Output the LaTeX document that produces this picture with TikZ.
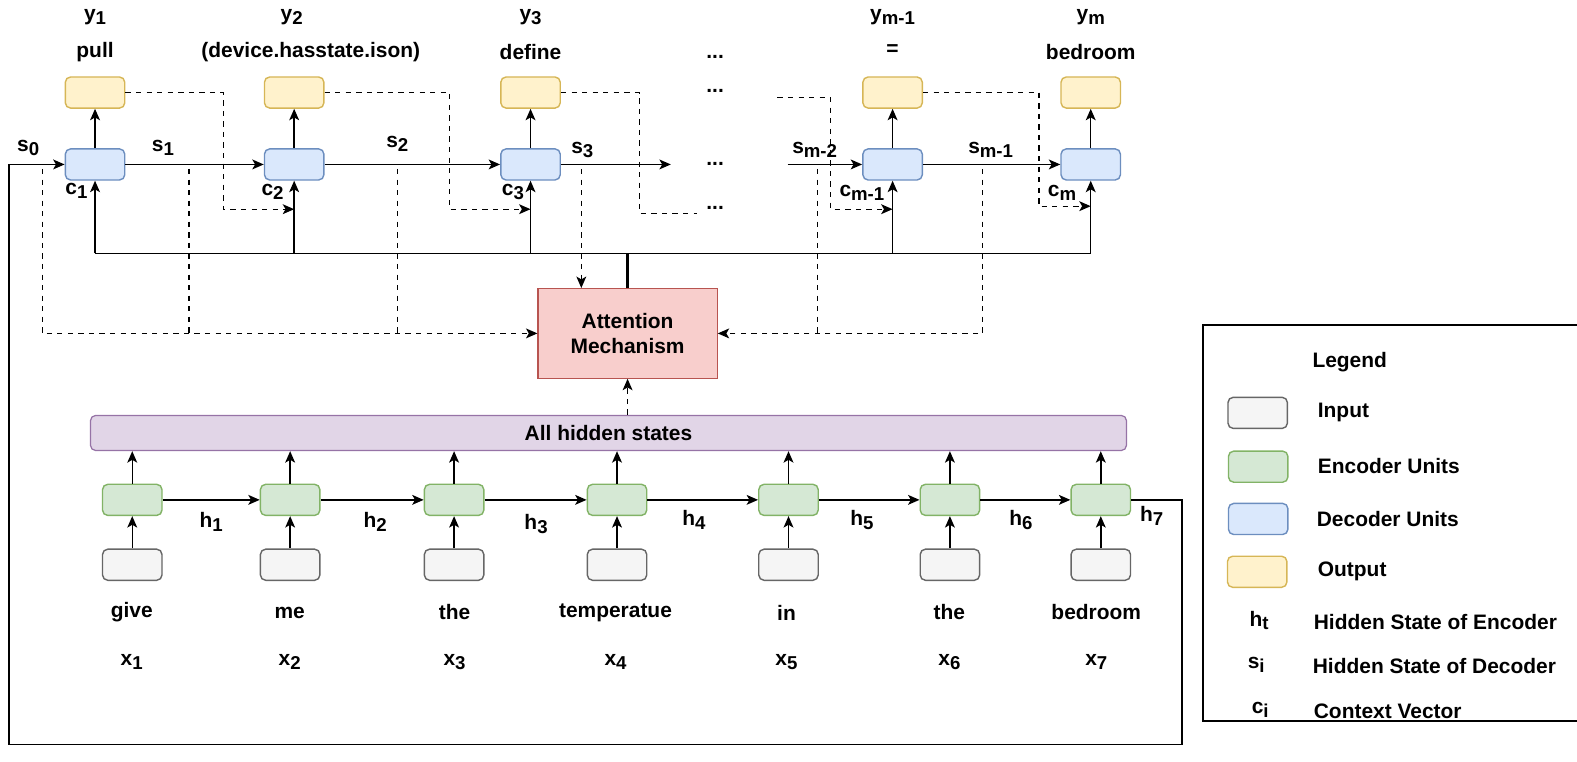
\documentclass[tikz,border=0pt]{standalone}
\usepackage{fontspec}
\setmainfont{Liberation Sans}
\usetikzlibrary{arrows.meta, calc, positioning}
\definecolor{decf}{HTML}{DAE8FC}
\definecolor{decd}{HTML}{6C8EBF}
\definecolor{encf}{HTML}{D5E8D4}
\definecolor{encd}{HTML}{82B366}
\definecolor{outf}{HTML}{FFF2CC}
\definecolor{outd}{HTML}{D6B656}
\definecolor{inf}{HTML}{F5F5F5}
\definecolor{ind}{HTML}{666666}
\definecolor{attf}{HTML}{F8CECC}
\definecolor{attd}{HTML}{B85450}
\definecolor{hidf}{HTML}{E1D5E7}
\definecolor{hidd}{HTML}{9673A6}
\newcommand{\lsub}[1]{\raisebox{-0.35ex}{\fontsize{10.6}{10}\selectfont #1}}
\tikzset{
  unit/.style={shape=rectangle, rounded corners=3pt, line width=0.8pt, minimum width=33.8pt, minimum height=17.7pt, inner sep=0pt},
  decunit/.style={unit, draw=decd, fill=decf},
  encunit/.style={unit, draw=encd, fill=encf},
  outunit/.style={unit, draw=outd, fill=outf},
  inunit/.style={unit, draw=ind, fill=inf},
  arr/.style={->, line width=0.85pt},
  darr/.style={->, dashed, line width=0.7pt},
  dline/.style={dashed, line width=0.7pt},
}
\begin{document}
\begin{tikzpicture}[x=0.0201cm, y=-0.0201cm, font=\bfseries\fontsize{11.9}{14}\selectfont,
    >={Stealth[length=6.5pt, width=5.6pt, inset=1.6pt]}]
    \useasboundingbox (0,0) rectangle (1568,757);

    % decoder
    \foreach \i/\x in {1/94.5, 2/292.5, 3/527.5, 4/887.5, 5/1084.5}{
        \node[decunit] (D\i) at (\x,163.5) {};
        \node[outunit] (Y\i) at (\x,92) {};
        \draw[arr] (D\i.north) -- (Y\i.south);
        \coordinate (C\i) at (\x,208);
    };

    \node (ty1) at (94.5,17) {y\lsub{1}};
    \node (ty2) at (290,17) {y\lsub{2}};
    \node (ty3) at (527.5,17) {y\lsub{3}};
    \node (ty4) at (887.5,17) {y\lsub{m-1}};
    \node (ty5) at (1084.5,17) {y\lsub{m}};
    \node (tw1) at (94.5,52) {pull};
    \node (tw2) at (309,52) {(device.hasstate.ison)};
    \node (tw3) at (527.5,52) {define};
    \node (tw4) at (887.5,50) {=};
    \node (tw5) at (1084.5,52) {bedroom};

    \foreach \i/\y in {1/57, 2/90, 3/163, 4/207}{
        \node (dots\i) at (711,\y) {...};
    };

    % states s
    \coordinate (S3e) at (667,163.5);
    \coordinate (Sm2) at (783,163.5);
    \draw[arr] (D1.east) -- (D2.west);
    \draw[arr] (D2.east) -- (D3.west);
    \draw[arr] (D3.east) -- (S3e);
    \draw[arr] (Sm2) -- (D4.west);
    \draw[arr] (D4.east) -- (D5.west);

    \node (s0) at (28,147) {s\lsub{0}};
    \node (s1) at (162,147) {s\lsub{1}};
    \node (s2) at (395,143) {s\lsub{2}};
    \node (s3) at (579,149) {s\lsub{3}};
    \node (s4) at (810,149) {s\lsub{m-2}};
    \node (s5) at (985,149) {s\lsub{m-1}};

    \node (c1) at (76,190) {c\lsub{1}};
    \node (c2) at (271,191) {c\lsub{2}};
    \node (c3) at (510,191) {c\lsub{3}};
    \node[fill=white, inner sep=1pt] (c4) at (857,192) {c\lsub{m-1}};
    \node (c5) at (1056,192) {c\lsub{m}};

    % previous outputs fed back
    \coordinate (K1) at (222,208);
    \coordinate (K2) at (447,208);
    \coordinate (K3) at (636,212);
    \coordinate (K3e) at (693,212);
    \coordinate (K4s) at (773,97);
    \coordinate (K4) at (826,208);
    \coordinate (K5) at (1033,205);
    \draw[darr] (Y1.east) -| (K1) -- (C2);
    \draw[darr] (Y2.east) -| (K2) -- (C3);
    \draw[dline] (Y3.east) -| (K3) -- (K3e);
    \draw[darr] (K4s) -| (K4) -- (C4);
    \draw[darr] (Y4.east) -| (K5) -- (C5 |- K5);

    % attention
    \node[shape=rectangle, draw=attd, fill=attf, line width=0.7pt, minimum width=101.8pt, minimum height=50.9pt, align=center] (Att) at (624,331.5) {Attention\\Mechanism};
    \coordinate (bus) at (624,252);
    \draw[line width=0.85pt] (D1.south |- bus) -- (D5.south |- bus);
    \foreach \i in {1,...,5}{
        \draw[arr] (D\i.south |- bus) -- (D\i.south);
    };
    \draw[line width=1.3pt] (Att.north) -- (bus);

    \coordinate (P0) at (42,168);
    \coordinate (P1) at (188,168);
    \coordinate (P2) at (395,168);
    \coordinate (P3) at (578,168);
    \coordinate (P4) at (813,168);
    \coordinate (P5) at (977,168);
    \draw[darr] (P0) |- (Att.west);
    \draw[dline] (P1) -- (P1 |- Att.west);
    \draw[dline] (P2) -- (P2 |- Att.west);
    \draw[darr] (P3) -- (P3 |- Att.north);
    \draw[darr] (P5) |- (Att.east);
    \draw[dline] (P4) -- (P4 |- Att.east);

    % encoder
    \node[shape=rectangle, rounded corners=3pt, draw=hidd, fill=hidf, line width=0.7pt, minimum width=589pt, minimum height=20pt] (Bar) at (605,430.5) {All hidden states};
    \draw[darr] (Att.south |- Bar.north) -- (Att.south);

    \foreach \i/\x in {1/131.5, 2/288.5, 3/451.5, 4/613.5, 5/784, 6/944.5, 7/1094.5}{
        \node[encunit] (E\i) at (\x,497) {};
        \node[inunit] (X\i) at (\x,561.5) {};
        \draw[arr] (X\i.north) -- (E\i.south);
        \draw[arr] (E\i.north) -- (E\i.north |- Bar.south);
    };
    \foreach \i/\j in {1/2, 2/3, 3/4, 4/5, 5/6, 6/7}{
        \draw[arr] (E\i.east) -- (E\j.west);
    };
    \foreach \i/\x/\y in {1/210/519, 2/373/519, 3/533/521, 4/690/517, 5/857/517, 6/1015/517, 7/1145/513}{
        \node (h\i) at (\x,\y) {h\lsub{\i}};
    };
    \foreach \i/\x/\w in {1/131/give, 2/288/me, 3/452/the, 4/612/temperatue, 5/782/in, 6/944/the, 7/1090/bedroom}{
        \node (w\i) at (\x,609) {\w};
        \node (x\i) at (\x,658) {x\lsub{\i}};
    };

    % last encoder state back to s0
    \coordinate (L1) at (1175,740);
    \coordinate (L2) at (9,740);
    \draw[arr] (E7.east) -| (L1) -- (L2) |- (D1.west);

    % legend
    \draw[line width=0.8pt] (1196,323) rectangle (1590,717);
    \node (lg) at (1342,360) {Legend};
    \node[inunit] (LI) at (1250.5,410.5) {};
    \node[encunit] (LE) at (1251,464) {};
    \node[decunit] (LD) at (1251,516) {};
    \node[outunit] (LO) at (1250,568.5) {};
    \node[anchor=west, inner sep=0pt] (lI) at (1310,410) {Input};
    \node[anchor=west, inner sep=0pt] (lE) at (1310,463) {Encoder Units};
    \node[anchor=west, inner sep=0pt] (lD) at (1309,516) {Decoder Units};
    \node[anchor=west, inner sep=0pt] (lO) at (1310,568) {Output};
    \node (lh) at (1252,617) {h\lsub{t}};
    \node (ls) at (1249,661) {s\lsub{i}};
    \node (lc) at (1253,706) {c\lsub{i}};
    \node[anchor=west, inner sep=0pt] (lht) at (1306,618) {Hidden State of Encoder};
    \node[anchor=west, inner sep=0pt] (lst) at (1305,662) {Hidden State of Decoder};
    \node[anchor=west, inner sep=0pt] (lct) at (1306,707) {Context Vector};
\end{tikzpicture}
\end{document}
